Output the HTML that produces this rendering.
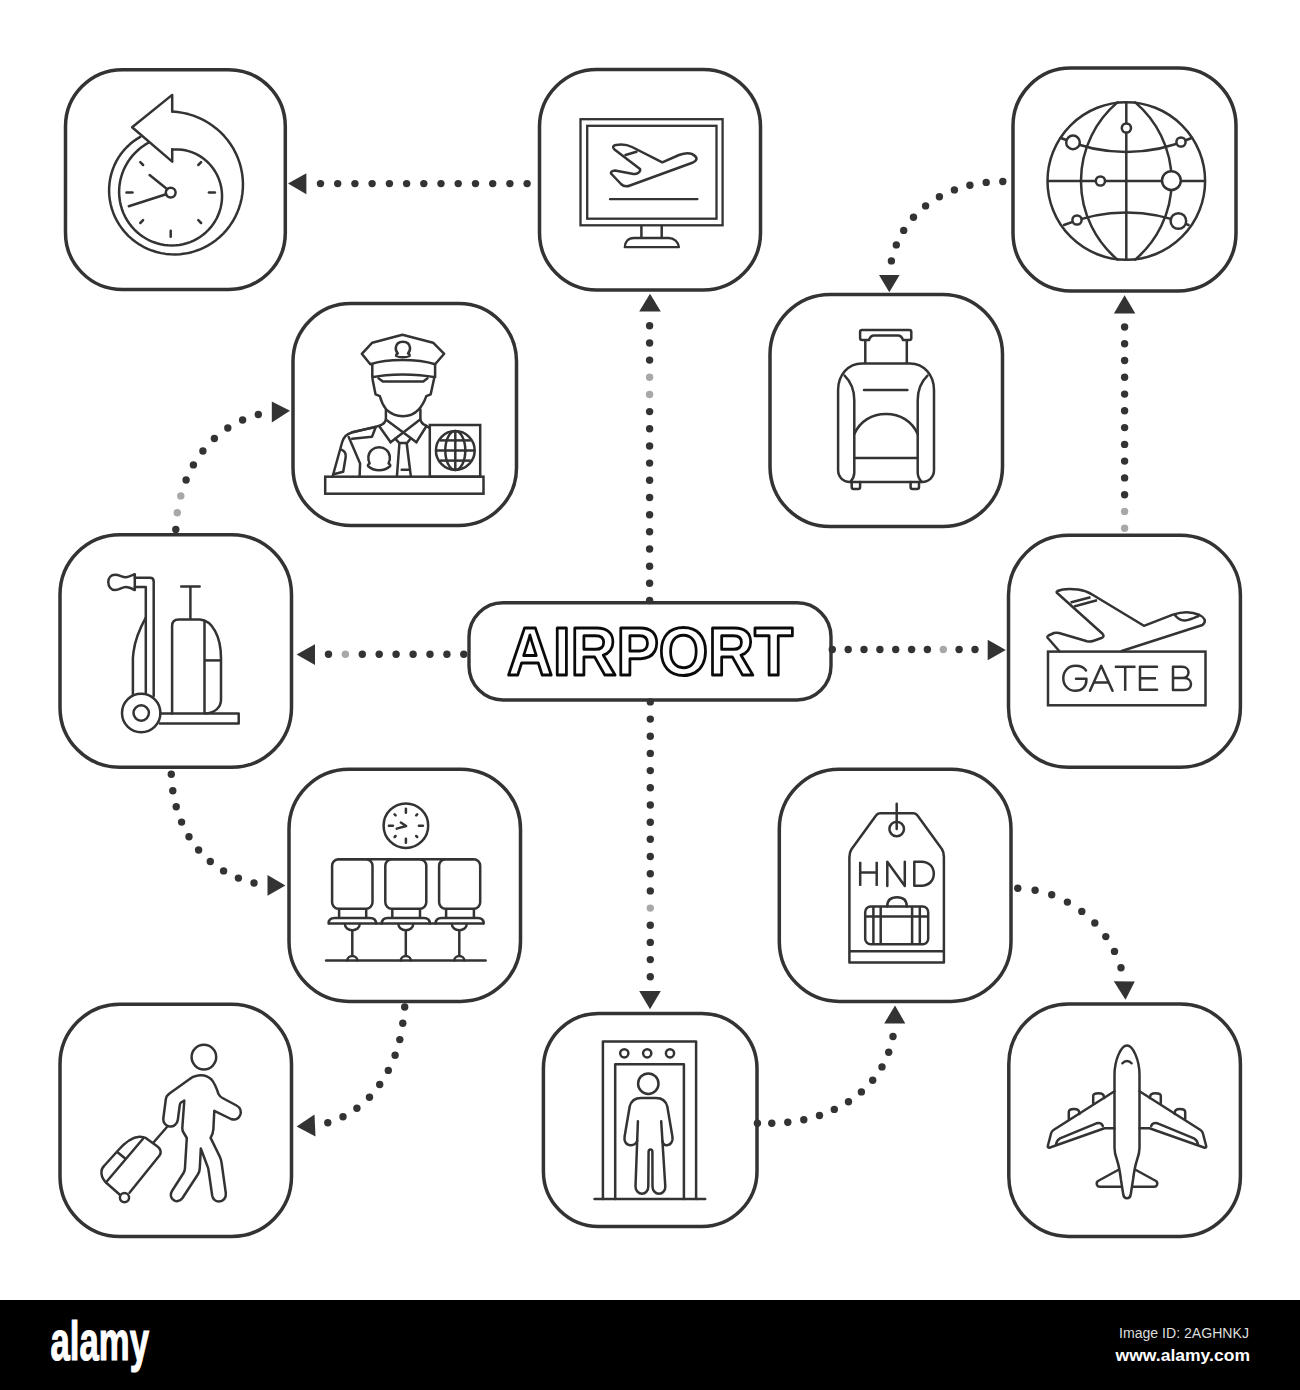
<!DOCTYPE html>
<html><head><meta charset="utf-8"><style>
html,body{margin:0;padding:0;background:#fff;}
body{width:1300px;height:1390px;position:relative;overflow:hidden;font-family:"Liberation Sans",sans-serif;}
svg{position:absolute;left:0;top:0;}
#bar{position:absolute;left:0;top:1300px;width:1300px;height:90px;background:#000;}
</style></head><body>
<svg width="1300" height="1300" viewBox="0 0 1300 1300">
<rect x="65.5" y="69.7" width="219.8" height="219.8" rx="56.8" fill="none" stroke="#333" stroke-width="3.5"/>
<rect x="539.5" y="69.5" width="221.0" height="220.5" rx="57.2" fill="none" stroke="#333" stroke-width="3.5"/>
<rect x="1013" y="68" width="223.0" height="223.0" rx="57.7" fill="none" stroke="#333" stroke-width="3.5"/>
<rect x="293" y="303.5" width="223.5" height="222.0" rx="57.8" fill="none" stroke="#333" stroke-width="3.5"/>
<rect x="770" y="294.5" width="232.5" height="232.0" rx="60.1" fill="none" stroke="#333" stroke-width="3.5"/>
<rect x="60" y="534.8" width="231.5" height="232.5" rx="59.9" fill="none" stroke="#333" stroke-width="3.5"/>
<rect x="1008.5" y="535.3" width="231.9" height="232.0" rx="60.0" fill="none" stroke="#333" stroke-width="3.5"/>
<rect x="289" y="769.3" width="231.5" height="232.1" rx="59.9" fill="none" stroke="#333" stroke-width="3.5"/>
<rect x="779.3" y="769.3" width="231.7" height="232.1" rx="59.9" fill="none" stroke="#333" stroke-width="3.5"/>
<rect x="60" y="1004.3" width="231.5" height="232.2" rx="59.9" fill="none" stroke="#333" stroke-width="3.5"/>
<rect x="543.4" y="1013.4" width="213.6" height="213.1" rx="55.2" fill="none" stroke="#333" stroke-width="3.5"/>
<rect x="1008.8" y="1004" width="231.6" height="232.4" rx="59.9" fill="none" stroke="#333" stroke-width="3.5"/>
<rect x="469" y="602.8" width="362" height="97.2" rx="34" fill="none" stroke="#333" stroke-width="3.4"/>
<circle cx="320.5" cy="183.6" r="3.7" fill="#333"/>
<circle cx="337.7" cy="183.6" r="3.7" fill="#333"/>
<circle cx="354.9" cy="183.6" r="3.7" fill="#333"/>
<circle cx="372.1" cy="183.6" r="3.7" fill="#333"/>
<circle cx="389.4" cy="183.6" r="3.7" fill="#333"/>
<circle cx="406.6" cy="183.6" r="3.7" fill="#333"/>
<circle cx="423.8" cy="183.6" r="3.7" fill="#333"/>
<circle cx="441.0" cy="183.6" r="3.7" fill="#333"/>
<circle cx="458.2" cy="183.6" r="3.7" fill="#333"/>
<circle cx="475.5" cy="183.6" r="3.7" fill="#333"/>
<circle cx="492.7" cy="183.6" r="3.7" fill="#333"/>
<circle cx="509.9" cy="183.6" r="3.7" fill="#333"/>
<circle cx="527.1" cy="183.6" r="3.7" fill="#333"/>
<circle cx="649.6" cy="325.8" r="3.7" fill="#333"/>
<circle cx="649.6" cy="343.0" r="3.7" fill="#333"/>
<circle cx="649.6" cy="360.1" r="3.7" fill="#333"/>
<circle cx="649.6" cy="377.3" r="3.7" fill="#a8a8a8"/>
<circle cx="649.6" cy="394.5" r="3.7" fill="#a8a8a8"/>
<circle cx="649.6" cy="411.6" r="3.7" fill="#333"/>
<circle cx="649.6" cy="428.8" r="3.7" fill="#333"/>
<circle cx="649.6" cy="446.0" r="3.7" fill="#333"/>
<circle cx="649.6" cy="463.1" r="3.7" fill="#333"/>
<circle cx="649.6" cy="480.3" r="3.7" fill="#333"/>
<circle cx="649.6" cy="497.5" r="3.7" fill="#333"/>
<circle cx="649.6" cy="514.7" r="3.7" fill="#333"/>
<circle cx="649.6" cy="531.8" r="3.7" fill="#333"/>
<circle cx="649.6" cy="549.0" r="3.7" fill="#333"/>
<circle cx="649.6" cy="566.2" r="3.7" fill="#333"/>
<circle cx="649.6" cy="583.3" r="3.7" fill="#333"/>
<circle cx="649.6" cy="600.5" r="3.7" fill="#333"/>
<circle cx="328.5" cy="654.2" r="3.7" fill="#333"/>
<circle cx="345.4" cy="654.2" r="3.7" fill="#a8a8a8"/>
<circle cx="362.3" cy="654.2" r="3.7" fill="#333"/>
<circle cx="379.2" cy="654.2" r="3.7" fill="#333"/>
<circle cx="396.1" cy="654.2" r="3.7" fill="#333"/>
<circle cx="413.1" cy="654.2" r="3.7" fill="#333"/>
<circle cx="430.0" cy="654.2" r="3.7" fill="#333"/>
<circle cx="446.9" cy="654.2" r="3.7" fill="#333"/>
<circle cx="463.8" cy="654.2" r="3.7" fill="#333"/>
<circle cx="832.3" cy="649.5" r="3.7" fill="#333"/>
<circle cx="848.2" cy="649.5" r="3.7" fill="#333"/>
<circle cx="864.0" cy="649.5" r="3.7" fill="#333"/>
<circle cx="879.9" cy="649.5" r="3.7" fill="#333"/>
<circle cx="895.7" cy="649.5" r="3.7" fill="#333"/>
<circle cx="911.6" cy="649.5" r="3.7" fill="#333"/>
<circle cx="927.4" cy="649.5" r="3.7" fill="#333"/>
<circle cx="943.3" cy="649.5" r="3.7" fill="#a8a8a8"/>
<circle cx="959.1" cy="649.5" r="3.7" fill="#333"/>
<circle cx="975.0" cy="649.5" r="3.7" fill="#333"/>
<circle cx="650.3" cy="701.9" r="3.7" fill="#333"/>
<circle cx="650.3" cy="719.1" r="3.7" fill="#333"/>
<circle cx="650.3" cy="736.3" r="3.7" fill="#333"/>
<circle cx="650.3" cy="753.4" r="3.7" fill="#333"/>
<circle cx="650.3" cy="770.6" r="3.7" fill="#333"/>
<circle cx="650.3" cy="787.8" r="3.7" fill="#333"/>
<circle cx="650.3" cy="805.0" r="3.7" fill="#333"/>
<circle cx="650.3" cy="822.2" r="3.7" fill="#333"/>
<circle cx="650.3" cy="839.3" r="3.7" fill="#333"/>
<circle cx="650.3" cy="856.5" r="3.7" fill="#333"/>
<circle cx="650.3" cy="873.7" r="3.7" fill="#333"/>
<circle cx="650.3" cy="890.9" r="3.7" fill="#333"/>
<circle cx="650.3" cy="908.1" r="3.7" fill="#a8a8a8"/>
<circle cx="650.3" cy="925.3" r="3.7" fill="#333"/>
<circle cx="650.3" cy="942.4" r="3.7" fill="#333"/>
<circle cx="650.3" cy="959.6" r="3.7" fill="#333"/>
<circle cx="650.3" cy="976.8" r="3.7" fill="#333"/>
<circle cx="1124.6" cy="327.0" r="3.7" fill="#333"/>
<circle cx="1124.6" cy="343.8" r="3.7" fill="#333"/>
<circle cx="1124.6" cy="360.5" r="3.7" fill="#333"/>
<circle cx="1124.6" cy="377.3" r="3.7" fill="#333"/>
<circle cx="1124.6" cy="394.1" r="3.7" fill="#333"/>
<circle cx="1124.6" cy="410.8" r="3.7" fill="#333"/>
<circle cx="1124.6" cy="427.6" r="3.7" fill="#333"/>
<circle cx="1124.6" cy="444.4" r="3.7" fill="#333"/>
<circle cx="1124.6" cy="461.1" r="3.7" fill="#333"/>
<circle cx="1124.6" cy="477.9" r="3.7" fill="#333"/>
<circle cx="1124.6" cy="494.7" r="3.7" fill="#333"/>
<circle cx="1124.6" cy="511.4" r="3.7" fill="#a8a8a8"/>
<circle cx="1124.6" cy="528.2" r="3.7" fill="#a8a8a8"/>
<circle cx="1002.8" cy="181.5" r="3.7" fill="#333"/>
<circle cx="986.2" cy="182.4" r="3.7" fill="#333"/>
<circle cx="969.9" cy="185.2" r="3.7" fill="#333"/>
<circle cx="954.4" cy="189.9" r="3.7" fill="#333"/>
<circle cx="939.4" cy="196.7" r="3.7" fill="#333"/>
<circle cx="925.6" cy="205.9" r="3.7" fill="#333"/>
<circle cx="913.5" cy="217.2" r="3.7" fill="#333"/>
<circle cx="903.7" cy="230.4" r="3.7" fill="#333"/>
<circle cx="896.3" cy="244.9" r="3.7" fill="#333"/>
<circle cx="891.4" cy="260.9" r="3.7" fill="#333"/>
<circle cx="175.8" cy="529.5" r="3.7" fill="#333"/>
<circle cx="177.3" cy="512.7" r="3.7" fill="#a8a8a8"/>
<circle cx="180.8" cy="495.9" r="3.7" fill="#a8a8a8"/>
<circle cx="186.1" cy="480.0" r="3.7" fill="#333"/>
<circle cx="193.4" cy="464.9" r="3.7" fill="#333"/>
<circle cx="202.9" cy="451.0" r="3.7" fill="#333"/>
<circle cx="214.4" cy="438.5" r="3.7" fill="#333"/>
<circle cx="227.8" cy="428.0" r="3.7" fill="#333"/>
<circle cx="242.6" cy="420.0" r="3.7" fill="#333"/>
<circle cx="258.3" cy="414.5" r="3.7" fill="#333"/>
<circle cx="171.3" cy="774.3" r="3.7" fill="#333"/>
<circle cx="172.8" cy="790.7" r="3.7" fill="#333"/>
<circle cx="176.2" cy="806.7" r="3.7" fill="#333"/>
<circle cx="181.6" cy="822.1" r="3.7" fill="#333"/>
<circle cx="189.0" cy="836.8" r="3.7" fill="#333"/>
<circle cx="198.6" cy="850.0" r="3.7" fill="#333"/>
<circle cx="210.3" cy="861.5" r="3.7" fill="#333"/>
<circle cx="223.6" cy="870.9" r="3.7" fill="#333"/>
<circle cx="238.4" cy="878.1" r="3.7" fill="#333"/>
<circle cx="254.0" cy="883.0" r="3.7" fill="#333"/>
<circle cx="404.7" cy="1007.0" r="3.7" fill="#333"/>
<circle cx="402.8" cy="1023.2" r="3.7" fill="#333"/>
<circle cx="399.8" cy="1039.6" r="3.7" fill="#333"/>
<circle cx="395.1" cy="1055.2" r="3.7" fill="#333"/>
<circle cx="388.3" cy="1070.4" r="3.7" fill="#333"/>
<circle cx="379.7" cy="1084.5" r="3.7" fill="#333"/>
<circle cx="369.5" cy="1097.3" r="3.7" fill="#333"/>
<circle cx="356.9" cy="1108.2" r="3.7" fill="#333"/>
<circle cx="343.0" cy="1116.8" r="3.7" fill="#333"/>
<circle cx="327.8" cy="1122.7" r="3.7" fill="#333"/>
<circle cx="757.4" cy="1123.3" r="3.7" fill="#333"/>
<circle cx="771.8" cy="1123.3" r="3.7" fill="#333"/>
<circle cx="787.8" cy="1122.3" r="3.7" fill="#333"/>
<circle cx="803.8" cy="1119.8" r="3.7" fill="#333"/>
<circle cx="819.5" cy="1115.5" r="3.7" fill="#333"/>
<circle cx="834.3" cy="1109.4" r="3.7" fill="#333"/>
<circle cx="848.5" cy="1101.8" r="3.7" fill="#333"/>
<circle cx="861.4" cy="1091.9" r="3.7" fill="#333"/>
<circle cx="872.7" cy="1080.2" r="3.7" fill="#333"/>
<circle cx="882.0" cy="1066.9" r="3.7" fill="#333"/>
<circle cx="888.7" cy="1052.2" r="3.7" fill="#333"/>
<circle cx="893.0" cy="1036.5" r="3.7" fill="#333"/>
<circle cx="1017.8" cy="888.3" r="3.7" fill="#333"/>
<circle cx="1035.1" cy="890.2" r="3.7" fill="#333"/>
<circle cx="1051.7" cy="894.8" r="3.7" fill="#333"/>
<circle cx="1067.4" cy="902.1" r="3.7" fill="#333"/>
<circle cx="1081.8" cy="911.4" r="3.7" fill="#333"/>
<circle cx="1094.8" cy="923.0" r="3.7" fill="#333"/>
<circle cx="1105.8" cy="936.6" r="3.7" fill="#333"/>
<circle cx="1114.5" cy="951.4" r="3.7" fill="#333"/>
<circle cx="1121.0" cy="967.7" r="3.7" fill="#333"/>
<polygon points="288.0,183.6 306.4,173.3 306.4,194.2" fill="#333"/>
<polygon points="650.0,293.8 639.2,311.6 660.8,311.6" fill="#333"/>
<polygon points="296.6,654.5 315.0,644.3 315.0,665.0" fill="#333"/>
<polygon points="1005.8,650.0 987.7,639.7 987.7,660.3" fill="#333"/>
<polygon points="650.0,1009.3 639.2,991.0 660.8,991.0" fill="#333"/>
<polygon points="889.3,292.3 879.0,275.0 899.6,275.0" fill="#333"/>
<polygon points="1124.6,295.2 1113.9,313.4 1135.3,313.4" fill="#333"/>
<polygon points="290.0,410.8 271.8,401.5 271.8,422.5" fill="#333"/>
<polygon points="285.4,885.5 267.5,875.0 267.5,895.8" fill="#333"/>
<polygon points="296.6,1126.6 314.5,1114.5 315.5,1136.5" fill="#333"/>
<polygon points="895.0,1005.4 884.2,1023.5 905.3,1023.5" fill="#333"/>
<polygon points="1125.5,999.7 1113.8,981.2 1134.8,981.6" fill="#333"/>
<text x="507" y="675.2" textLength="286" lengthAdjust="spacingAndGlyphs" font-family="Liberation Sans" font-weight="bold" font-size="68.5" fill="#fff" stroke="#0a0a0a" stroke-width="3" stroke-linejoin="round">AIRPORT</text>
<path d="M172.20,111.59 L177.60,112.04 L182.95,112.87 L188.21,114.08 L193.35,115.66 L198.35,117.60 L203.19,119.88 L207.84,122.50 L212.28,125.43 L216.49,128.67 L220.44,132.19 L224.12,135.97 L227.51,140.00 L230.59,144.24 L233.36,148.68 L235.79,153.30 L237.88,158.06 L239.62,162.95 L241.00,167.94 L242.02,173.00 L242.67,178.10 L242.95,183.22 L242.87,188.34 L242.42,193.42 L241.62,198.44 L240.45,203.37 L238.95,208.20 L237.10,212.89 L234.93,217.42 L232.45,221.78 L229.68,225.93 L226.62,229.87 L223.30,233.56 L219.73,236.99 L215.94,240.16 L211.94,243.03 L207.76,245.60 L203.42,247.86 L198.94,249.80 L194.35,251.41 L189.67,252.68 L184.92,253.61 L180.14,254.19 L175.34,254.43 L170.55,254.33 L165.80,253.89 L161.10,253.11 L156.48,251.99 L151.98,250.56 L147.59,248.81 L143.36,246.76 L139.30,244.42 L135.43,241.80 L131.77,238.92 L128.34,235.80 L125.14,232.44 L122.21,228.89 L119.54,225.14 L117.16,221.22 L115.08,217.15 L113.29,212.96 L111.81,208.67 L110.65,204.30 L109.81,199.87 L109.29,195.40 L109.09,190.92 L109.21,186.46 L109.65,182.03 L110.40,177.66 L111.46,173.36 L112.82,169.17 L114.47,165.10 L116.41,161.17 L118.61,157.40 L121.07,153.82 L123.76,150.43 L126.69,147.25 L129.82,144.30 L133.15,141.59 L136.65,139.13 L140.30,136.94" fill="none" stroke="#333" stroke-width="2.5" stroke-linecap="round" stroke-linejoin="round" />
<path d="M172.21,149.55 L175.48,149.38 L178.75,149.44 L182.03,149.75 L185.29,150.31 L188.50,151.10 L191.67,152.13 L194.76,153.39 L197.76,154.88 L200.65,156.60 L203.42,158.52 L206.04,160.66 L208.52,162.98 L210.82,165.49 L212.94,168.18 L214.86,171.02 L216.58,174.00 L218.08,177.12 L219.35,180.34 L220.38,183.66 L221.17,187.06 L221.71,190.52 L222.00,194.02 L222.03,197.54 L221.80,201.07 L221.31,204.59 L220.56,208.07 L219.56,211.49 L218.30,214.85 L216.79,218.11 L215.05,221.27 L213.07,224.30 L210.86,227.18 L208.45,229.90 L205.83,232.45 L203.02,234.81 L200.04,236.96 L196.90,238.89 L193.61,240.59 L190.20,242.06 L186.68,243.27 L183.07,244.22 L179.39,244.91 L175.65,245.33 L171.89,245.47 L168.11,245.33 L164.34,244.92 L160.60,244.23 L156.90,243.27 L153.28,242.03 L149.75,240.53 L146.32,238.76 L143.03,236.75 L139.88,234.49 L136.90,232.00 L134.10,229.29 L131.49,226.37 L129.10,223.26 L126.94,219.97 L125.03,216.52 L123.36,212.94 L121.96,209.22 L120.82,205.41 L119.97,201.51 L119.41,197.54 L119.14,193.54 L119.16,189.51 L119.48,185.49 L120.09,181.48 L121.00,177.52 L122.20,173.63 L123.68,169.83 L125.45,166.13 L127.49,162.56 L129.79,159.14 L132.34,155.89 L135.13,152.83 L138.15,149.97 L141.37,147.34 L144.79,144.94 L148.39,142.79" fill="none" stroke="#333" stroke-width="2.5" stroke-linecap="round" stroke-linejoin="round" />
<polyline points="172.2,111.4 172.2,94.9 132.1,127.3 172.2,161.6 172.2,149.3" fill="none" stroke="#333" stroke-width="2.5" stroke-linejoin="round" stroke-linecap="round"/>
<circle cx="170.7" cy="192.6" r="4.9" fill="none" stroke="#333" stroke-width="2.5"/>
<line x1="167.3" y1="189.2" x2="149.6" y2="175.0" stroke="#333" stroke-width="2.5" stroke-linecap="round"/>
<line x1="166.1" y1="194.2" x2="128.8" y2="206.2" stroke="#333" stroke-width="2.5" stroke-linecap="round"/>
<line x1="208.9" y1="192.6" x2="214.9" y2="192.6" stroke="#333" stroke-width="2.5" stroke-linecap="round"/>
<line x1="198.3" y1="220.2" x2="201.1" y2="223.0" stroke="#333" stroke-width="2.5" stroke-linecap="round"/>
<line x1="170.7" y1="230.8" x2="170.7" y2="236.8" stroke="#333" stroke-width="2.5" stroke-linecap="round"/>
<line x1="143.1" y1="220.2" x2="140.3" y2="223.0" stroke="#333" stroke-width="2.5" stroke-linecap="round"/>
<line x1="132.5" y1="192.6" x2="126.5" y2="192.6" stroke="#333" stroke-width="2.5" stroke-linecap="round"/>
<line x1="143.1" y1="165.0" x2="140.3" y2="162.2" stroke="#333" stroke-width="2.5" stroke-linecap="round"/>
<line x1="198.3" y1="165.0" x2="201.1" y2="162.2" stroke="#333" stroke-width="2.5" stroke-linecap="round"/>
<rect x="580.5" y="119.2" width="142.1" height="106.1" rx="0.0" fill="none" stroke="#333" stroke-width="2.3"/>
<rect x="587.2" y="125.8" width="129.3" height="92.9" rx="0.0" fill="none" stroke="#333" stroke-width="2.3"/>
<line x1="641.4" y1="225.3" x2="641.4" y2="238.0" stroke="#333" stroke-width="2.5" stroke-linecap="butt"/>
<line x1="661.7" y1="225.3" x2="661.7" y2="238.0" stroke="#333" stroke-width="2.5" stroke-linecap="butt"/>
<path d="M624.8,247.2 C625,242 628,238 634,238 L668.5,238 C674,238 678.5,242 678.9,247.2 Z" fill="none" stroke="#333" stroke-width="2.3" stroke-linecap="round" stroke-linejoin="round" />
<line x1="610.0" y1="199.2" x2="697.4" y2="199.2" stroke="#333" stroke-width="2.3" stroke-linecap="round"/>
<path d="M616,145 C622,144 628,145 632,147 L662.3,162.3 L679,155 C686,152.5 692,153 695,156 C698,159 696,161 693,162.5 L630,185.5 C626,187 623,186 621,184 L611.5,174 C610,172.5 612,170.5 615,170.5 L633.5,174 C637,174.5 641,172 640,169 L614.5,149.5 C612,147.5 613,145.5 616,145 Z" fill="none" stroke="#333" stroke-width="2.5" stroke-linecap="round" stroke-linejoin="round" />
<line x1="625.5" y1="155.0" x2="636.5" y2="151.8" stroke="#333" stroke-width="2.5" stroke-linecap="round"/>
<circle cx="1126.3" cy="181.0" r="78.8" fill="none" stroke="#333" stroke-width="2.5"/>
<line x1="1126.3" y1="102.2" x2="1126.3" y2="259.8" stroke="#333" stroke-width="2.5" stroke-linecap="butt"/>
<line x1="1047.5" y1="181.0" x2="1205.1" y2="181.0" stroke="#333" stroke-width="2.5" stroke-linecap="butt"/>
<path d="M1117.4,102.4 A103,103 0 0 0 1117.4,259.6" fill="none" stroke="#333" stroke-width="2.5" stroke-linecap="round" stroke-linejoin="round" />
<path d="M1135.2,102.4 A103,103 0 0 1 1135.2,259.6" fill="none" stroke="#333" stroke-width="2.5" stroke-linecap="round" stroke-linejoin="round" />
<path d="M1061,138 A159.75,159.75 0 0 0 1191.6,138" fill="none" stroke="#333" stroke-width="2.5" stroke-linecap="round" stroke-linejoin="round" />
<path d="M1064,225 A160.8,160.8 0 0 1 1188.6,225" fill="none" stroke="#333" stroke-width="2.5" stroke-linecap="round" stroke-linejoin="round" />
<circle cx="1126.4" cy="128.0" r="4.6" fill="#fff" stroke="#333" stroke-width="2.5"/>
<circle cx="1073.0" cy="142.4" r="6.8" fill="#fff" stroke="#333" stroke-width="2.5"/>
<circle cx="1181.0" cy="142.0" r="4.6" fill="#fff" stroke="#333" stroke-width="2.5"/>
<circle cx="1100.4" cy="181.0" r="4.6" fill="#fff" stroke="#333" stroke-width="2.5"/>
<circle cx="1171.4" cy="180.6" r="9.4" fill="#fff" stroke="#333" stroke-width="2.5"/>
<circle cx="1077.0" cy="220.0" r="4.6" fill="#fff" stroke="#333" stroke-width="2.5"/>
<circle cx="1178.4" cy="221.0" r="7.8" fill="#fff" stroke="#333" stroke-width="2.5"/>
<rect x="325.2" y="476.7" width="158.3" height="17.0" rx="0.0" fill="none" stroke="#333" stroke-width="2.5"/>
<rect x="429.8" y="425.0" width="50.4" height="51.7" rx="0.0" fill="none" stroke="#333" stroke-width="2.5"/>
<circle cx="455.3" cy="450.5" r="19.4" fill="none" stroke="#333" stroke-width="2.5"/>
<line x1="455.3" y1="431.1" x2="455.3" y2="469.9" stroke="#333" stroke-width="2.5" stroke-linecap="butt"/>
<line x1="435.9" y1="450.5" x2="474.7" y2="450.5" stroke="#333" stroke-width="2.5" stroke-linecap="butt"/>
<ellipse cx="455.3" cy="450.5" rx="10" ry="19.4" fill="none" stroke="#333" stroke-width="2.5"/>
<line x1="439.8" y1="440.4" x2="470.8" y2="440.4" stroke="#333" stroke-width="2.5" stroke-linecap="butt"/>
<line x1="439.8" y1="460.6" x2="470.8" y2="460.6" stroke="#333" stroke-width="2.5" stroke-linecap="butt"/>
<path d="M402.4,334.8 L372.3,342.7 L361.8,353.8 L370.3,364.2 C380,361 392,360 402.4,360 C414,360 425,361 435.1,364.2 L444.2,353.8 L433.1,342.7 Z" fill="none" stroke="#333" stroke-width="2.5" stroke-linecap="round" stroke-linejoin="round" />
<path d="M372.3,364.5 L372.3,377.3 C382,375 392,374.4 402.4,374.4 C413,374.4 424,375 435.1,377.3 L435.1,364.5" fill="none" stroke="#333" stroke-width="2.5" stroke-linecap="round" stroke-linejoin="round" />
<path d="M378.5,378.3 L382.8,381.4 L423.3,381.4 L427.5,378.3" fill="none" stroke="#333" stroke-width="2.5" stroke-linecap="round" stroke-linejoin="round" />
<path d="M397.8,353.3 C396,351.5 395.6,349.5 395.8,347.5 C396.3,343.8 399.3,341.7 402.9,341.7 C406.5,341.7 409.5,343.8 410,347.5 C410.2,349.5 409.8,351.5 408,353.3 C409.3,354 409.8,355 409.5,356 C407.5,357 405.3,357.3 402.9,357.3 C400.5,357.3 398.3,357 396.3,356 C396,355 396.5,354 397.8,353.3 Z" fill="none" stroke="#333" stroke-width="2.5" stroke-linecap="round" stroke-linejoin="round" />
<path d="M372.5,379 L375.5,394.3 L379.9,396.2 C381,400.5 383,405.5 386.4,409.7 C391,414 396.5,416.3 402.9,416.3 C409,416.3 414.5,414 418.6,409.7 C422.5,405.5 424.8,400.5 426.3,396.2 L430.7,394.3 L434,379" fill="none" stroke="#333" stroke-width="2.5" stroke-linecap="round" stroke-linejoin="round" />
<path d="M385.9,410 L385.9,418.5 C385.9,421.5 383,424.5 379.1,425.9" fill="none" stroke="#333" stroke-width="2.5" stroke-linecap="round" stroke-linejoin="round" />
<path d="M420.4,409.5 L420.4,418.5 C420.4,421.5 423,424.5 426.5,425.9" fill="none" stroke="#333" stroke-width="2.5" stroke-linecap="round" stroke-linejoin="round" />
<line x1="386.8" y1="420.2" x2="416.4" y2="442.2" stroke="#333" stroke-width="2.5" stroke-linecap="round"/>
<line x1="419.8" y1="419.8" x2="390.6" y2="442.2" stroke="#333" stroke-width="2.5" stroke-linecap="round"/>
<line x1="379.1" y1="426.0" x2="390.6" y2="442.2" stroke="#333" stroke-width="2.5" stroke-linecap="round"/>
<line x1="426.5" y1="426.0" x2="416.4" y2="442.2" stroke="#333" stroke-width="2.5" stroke-linecap="round"/>
<polyline points="395.2,438.6 399.4,443.1 407.1,443.1 410.4,438.8" fill="none" stroke="#333" stroke-width="2.5" stroke-linejoin="round" stroke-linecap="round"/>
<line x1="399.4" y1="443.5" x2="396.9" y2="476.5" stroke="#333" stroke-width="2.5" stroke-linecap="butt"/>
<line x1="406.7" y1="443.5" x2="410.9" y2="476.5" stroke="#333" stroke-width="2.5" stroke-linecap="butt"/>
<line x1="401.7" y1="469.7" x2="408.8" y2="469.7" stroke="#333" stroke-width="2.5" stroke-linecap="round"/>
<path d="M379.1,425.9 L352,432.5 C347,433.8 343.5,437.5 342.2,442 L332.6,476.5" fill="none" stroke="#333" stroke-width="2.5" stroke-linecap="round" stroke-linejoin="round" />
<polyline points="352.1,432.1 375.8,427.0 372.0,436.7 352.1,438.8" fill="none" stroke="#333" stroke-width="2.5" stroke-linejoin="round" stroke-linecap="round"/>
<path d="M348.7,437.1 L360.1,463.4 L359.6,476.5" fill="none" stroke="#333" stroke-width="2.5" stroke-linecap="round" stroke-linejoin="round" />
<path d="M341.9,449.8 C344.5,451 346,454 345.7,457 L343.2,471.8 L333.5,474.2" fill="none" stroke="#333" stroke-width="2.5" stroke-linecap="round" stroke-linejoin="round" />
<line x1="426.5" y1="426.0" x2="429.8" y2="428.3" stroke="#333" stroke-width="2.5" stroke-linecap="round"/>
<path d="M369.6,463.3 C368.4,461 368.2,458.5 368.4,456.5 C369,451 373.5,447.3 379.1,447.3 C384.7,447.3 389.2,451 389.8,456.5 C390,458.5 389.8,461 388.6,463.3 C389.8,464 390.5,465 390.2,466 C387,469 383,470.3 379.1,470.3 C375.2,470.3 371.2,469 368,466 C367.7,465 368.4,464 369.6,463.3 Z" fill="none" stroke="#333" stroke-width="2.5" stroke-linecap="round" stroke-linejoin="round" />
<path d="M862,330.1 L909.3,330.1 Q911.3,330.1 911.3,332.1 L911.3,338 Q911.3,340 909.3,340 L903,340 C902,337 900.5,335.5 898,335.5 L874,335.5 C871.5,335.5 870,337 869,340 L862,340 Q860.1,340 860.1,338 L860.1,332.1 Q860.1,330.1 862,330.1 Z" fill="none" stroke="#333" stroke-width="2.5" stroke-linecap="round" stroke-linejoin="round" />
<line x1="865.3" y1="340.0" x2="865.3" y2="363.4" stroke="#333" stroke-width="2.5" stroke-linecap="butt"/>
<line x1="906.8" y1="340.0" x2="906.8" y2="363.4" stroke="#333" stroke-width="2.5" stroke-linecap="butt"/>
<path d="M862,363.4 L910,363.4 C924,363.4 934,375 934,390 L934,470 C934,477 929,481.9 922,481.9 L850,481.9 C843,481.9 838.1,477 838.1,470 L838.1,390 C838.1,375 848,363.4 862,363.4 Z" fill="none" stroke="#333" stroke-width="2.5" stroke-linecap="round" stroke-linejoin="round" />
<path d="M844.6,375.7 C850,381 854.3,390 854.3,400.3 L854.3,472.8 C854.3,476 852.5,479.5 850.4,481.9" fill="none" stroke="#333" stroke-width="2.5" stroke-linecap="round" stroke-linejoin="round" />
<path d="M927.5,375.7 C922,381 917.7,390 917.7,400.3 L917.7,472.8 C917.7,476 919.5,479.5 921.7,481.9" fill="none" stroke="#333" stroke-width="2.5" stroke-linecap="round" stroke-linejoin="round" />
<line x1="864.0" y1="390.0" x2="907.4" y2="390.0" stroke="#333" stroke-width="2.5" stroke-linecap="round"/>
<path d="M854.3,434 C860,421 872,413.9 886,413.9 C900,413.9 912,421 917.7,434" fill="none" stroke="#333" stroke-width="2.5" stroke-linecap="round" stroke-linejoin="round" />
<line x1="854.3" y1="457.9" x2="917.7" y2="457.9" stroke="#333" stroke-width="2.5" stroke-linecap="butt"/>
<path d="M851.7,481.9 L851.7,487 Q851.7,489 853.7,489 L858.1,489 Q860.1,489 860.1,487 L860.1,481.9" fill="none" stroke="#333" stroke-width="2.5" stroke-linecap="round" stroke-linejoin="round" />
<path d="M910.6,481.9 L910.6,487 Q910.6,489 912.6,489 L917,489 Q919,489 919,487 L919,481.9" fill="none" stroke="#333" stroke-width="2.5" stroke-linecap="round" stroke-linejoin="round" />
<path d="M134.8,574.2 L134.8,590.1 C131,588 128,587 125.6,587 C122,587 119.5,590.1 115,590.1 C111,590.1 108.3,586.5 108.3,582.1 C108.3,577.7 111,574.8 115,574.8 C119.5,574.8 122,577.2 125.6,577.2 C128,577.2 131,576 134.8,574.2 Z" fill="none" stroke="#333" stroke-width="2.5" stroke-linecap="round" stroke-linejoin="round" />
<path d="M134.8,577.8 L150,577.8 Q153.7,577.8 153.7,581.5 L153.7,696" fill="none" stroke="#333" stroke-width="2.5" stroke-linecap="round" stroke-linejoin="round" />
<path d="M134.8,587 L145.8,587 L145.8,694" fill="none" stroke="#333" stroke-width="2.5" stroke-linecap="round" stroke-linejoin="round" />
<path d="M145.8,617.6 C140,628 135,640 133.5,652 L132.9,658 L132.9,694.5" fill="none" stroke="#333" stroke-width="2.5" stroke-linecap="round" stroke-linejoin="round" />
<circle cx="141.2" cy="713.0" r="19.2" fill="#fff" stroke="#333" stroke-width="2.5"/>
<circle cx="141.2" cy="713.0" r="7.7" fill="none" stroke="#333" stroke-width="2.5"/>
<path d="M160.3,713.6 L238.7,713.6 L238.7,723.4 L159.8,723.4" fill="none" stroke="#333" stroke-width="2.5" stroke-linecap="round" stroke-linejoin="round" />
<path d="M172.1,713.6 L172.1,626 Q172.1,619.4 178.7,619.4 L200,619.6 C212,620.5 221,636 221,658 L221,699.6 C221,708 214,713.4 205.1,713.4" fill="none" stroke="#333" stroke-width="2.5" stroke-linecap="round" stroke-linejoin="round" />
<line x1="204.5" y1="621.0" x2="204.5" y2="713.6" stroke="#333" stroke-width="2.5" stroke-linecap="butt"/>
<line x1="204.5" y1="660.4" x2="221.0" y2="660.4" stroke="#333" stroke-width="2.5" stroke-linecap="butt"/>
<line x1="190.4" y1="586.4" x2="190.4" y2="619.4" stroke="#333" stroke-width="2.5" stroke-linecap="butt"/>
<line x1="181.2" y1="586.4" x2="199.6" y2="586.4" stroke="#333" stroke-width="2.5" stroke-linecap="round"/>
<rect x="1048.0" y="651.6" width="157.5" height="53.7" rx="0.0" fill="none" stroke="#333" stroke-width="2.5"/>
<path d="M1059.4,651.3 L1047.4,637.5 Q1047,636.3 1048.5,635.5 L1054,633 Q1056.6,632.3 1059,633 L1087,641.2 Q1090,642 1093,641 L1101.5,638 Q1105,636.5 1102.5,633.8 L1058,593.8 Q1055.5,592 1057.5,591 C1062,589 1070,588.5 1078,589.5 C1084,590.3 1089,592.5 1093,595 L1143.9,625.8 L1172.9,614.6 C1182,611.5 1192,611.5 1199.5,615 C1204.5,617.5 1207,621 1202.5,625 L1121.7,651" fill="none" stroke="#333" stroke-width="2.5" stroke-linecap="round" stroke-linejoin="round" />
<path d="M1175,615.3 C1178,619 1181,620.8 1185,620.5 C1190,620 1194,618 1198.5,616" fill="none" stroke="#333" stroke-width="2.5" stroke-linecap="round" stroke-linejoin="round" />
<line x1="1070.5" y1="602.5" x2="1090.5" y2="597.3" stroke="#333" stroke-width="2.5" stroke-linecap="butt"/>
<line x1="1074.0" y1="606.5" x2="1097.0" y2="600.2" stroke="#333" stroke-width="2.5" stroke-linecap="butt"/>
<path d="M1086,670.5 C1084,667.5 1080.5,665.8 1075.5,665.8 C1068,665.8 1063.3,671.5 1063.3,678.3 C1063.3,685.5 1068.5,690.8 1075.5,690.8 C1082,690.8 1086.4,686.5 1086.4,680 L1086.4,678.8 L1076,678.8" fill="none" stroke="#333" stroke-width="2.5" stroke-linecap="round" stroke-linejoin="round" />
<polyline points="1090.0,690.8 1101.2,665.8 1112.5,690.8" fill="none" stroke="#333" stroke-width="2.5" stroke-linejoin="round" stroke-linecap="round"/>
<line x1="1094.0" y1="682.5" x2="1108.5" y2="682.5" stroke="#333" stroke-width="2.5" stroke-linecap="butt"/>
<line x1="1114.8" y1="666.8" x2="1135.5" y2="666.8" stroke="#333" stroke-width="2.5" stroke-linecap="butt"/>
<line x1="1125.2" y1="666.8" x2="1125.2" y2="690.8" stroke="#333" stroke-width="2.5" stroke-linecap="butt"/>
<polyline points="1157.0,666.8 1140.0,666.8 1140.0,689.8 1157.0,689.8" fill="none" stroke="#333" stroke-width="2.5" stroke-linejoin="round" stroke-linecap="round"/>
<line x1="1140.0" y1="678.3" x2="1156.0" y2="678.3" stroke="#333" stroke-width="2.5" stroke-linecap="butt"/>
<path d="M1173,690 L1173,666.8 L1182,666.8 C1186.5,666.8 1188.5,669.5 1188.5,672.5 C1188.5,675.8 1186,678 1182,678 L1173,678 M1182,678 L1184,678 C1188.5,678 1191,680.8 1191,684 C1191,687.5 1188.5,690 1184,690 L1173,690" fill="none" stroke="#333" stroke-width="2.5" stroke-linecap="round" stroke-linejoin="round" />
<circle cx="405.9" cy="825.7" r="22.3" fill="none" stroke="#333" stroke-width="2.5"/>
<line x1="418.9" y1="825.7" x2="422.9" y2="825.7" stroke="#333" stroke-width="2.5" stroke-linecap="round"/>
<line x1="416.2" y1="836.0" x2="417.2" y2="837.0" stroke="#333" stroke-width="2.5" stroke-linecap="round"/>
<line x1="405.9" y1="838.7" x2="405.9" y2="842.7" stroke="#333" stroke-width="2.5" stroke-linecap="round"/>
<line x1="395.6" y1="836.0" x2="394.6" y2="837.0" stroke="#333" stroke-width="2.5" stroke-linecap="round"/>
<line x1="392.9" y1="825.7" x2="388.9" y2="825.7" stroke="#333" stroke-width="2.5" stroke-linecap="round"/>
<line x1="395.6" y1="815.4" x2="394.6" y2="814.4" stroke="#333" stroke-width="2.5" stroke-linecap="round"/>
<line x1="405.9" y1="812.7" x2="405.9" y2="808.7" stroke="#333" stroke-width="2.5" stroke-linecap="round"/>
<line x1="416.2" y1="815.4" x2="417.2" y2="814.4" stroke="#333" stroke-width="2.5" stroke-linecap="round"/>
<polyline points="400.8,822.6 406.2,826.0 396.7,828.7" fill="none" stroke="#333" stroke-width="2.4" stroke-linejoin="round" stroke-linecap="round"/>
<line x1="339.0" y1="859.3" x2="473.0" y2="859.3" stroke="#333" stroke-width="2.5" stroke-linecap="round"/>
<rect x="332.1" y="859.3" width="40.4" height="49.5" rx="6.5" fill="none" stroke="#333" stroke-width="2.5"/>
<line x1="339.1" y1="908.8" x2="339.1" y2="918.0" stroke="#333" stroke-width="2.5" stroke-linecap="butt"/>
<line x1="366.2" y1="908.8" x2="366.2" y2="918.0" stroke="#333" stroke-width="2.5" stroke-linecap="butt"/>
<path d="M328.6,923.5 C328.6,920 330.6,918 334.6,918 L370.0,918 C374.0,918 376.0,920 376.0,923.5" fill="none" stroke="#333" stroke-width="2.5" stroke-linecap="round" stroke-linejoin="round" />
<path d="M344.90000000000003,924.2 A7.4,6 0 0 0 359.7,924.2" fill="none" stroke="#333" stroke-width="2.5" stroke-linecap="round" stroke-linejoin="round" />
<line x1="352.3" y1="930.0" x2="352.3" y2="956.0" stroke="#333" stroke-width="2.5" stroke-linecap="butt"/>
<path d="M347.3,960.6 A5,4.5 0 0 1 357.3,960.6" fill="none" stroke="#333" stroke-width="2.5" stroke-linecap="round" stroke-linejoin="round" />
<rect x="385.3" y="859.3" width="41.0" height="49.5" rx="6.5" fill="none" stroke="#333" stroke-width="2.5"/>
<line x1="392.3" y1="908.8" x2="392.3" y2="918.0" stroke="#333" stroke-width="2.5" stroke-linecap="butt"/>
<line x1="420.0" y1="908.8" x2="420.0" y2="918.0" stroke="#333" stroke-width="2.5" stroke-linecap="butt"/>
<path d="M381.8,923.5 C381.8,920 383.8,918 387.8,918 L423.8,918 C427.8,918 429.8,920 429.8,923.5" fill="none" stroke="#333" stroke-width="2.5" stroke-linecap="round" stroke-linejoin="round" />
<path d="M398.40000000000003,924.2 A7.4,6 0 0 0 413.2,924.2" fill="none" stroke="#333" stroke-width="2.5" stroke-linecap="round" stroke-linejoin="round" />
<line x1="405.8" y1="930.0" x2="405.8" y2="956.0" stroke="#333" stroke-width="2.5" stroke-linecap="butt"/>
<path d="M400.8,960.6 A5,4.5 0 0 1 410.8,960.6" fill="none" stroke="#333" stroke-width="2.5" stroke-linecap="round" stroke-linejoin="round" />
<rect x="439.1" y="859.3" width="41.1" height="49.5" rx="6.5" fill="none" stroke="#333" stroke-width="2.5"/>
<line x1="446.1" y1="908.8" x2="446.1" y2="918.0" stroke="#333" stroke-width="2.5" stroke-linecap="butt"/>
<line x1="473.9" y1="908.8" x2="473.9" y2="918.0" stroke="#333" stroke-width="2.5" stroke-linecap="butt"/>
<path d="M435.6,923.5 C435.6,920 437.6,918 441.6,918 L477.7,918 C481.7,918 483.7,920 483.7,923.5" fill="none" stroke="#333" stroke-width="2.5" stroke-linecap="round" stroke-linejoin="round" />
<path d="M451.90000000000003,924.2 A7.4,6 0 0 0 466.7,924.2" fill="none" stroke="#333" stroke-width="2.5" stroke-linecap="round" stroke-linejoin="round" />
<line x1="459.3" y1="930.0" x2="459.3" y2="956.0" stroke="#333" stroke-width="2.5" stroke-linecap="butt"/>
<path d="M454.3,960.6 A5,4.5 0 0 1 464.3,960.6" fill="none" stroke="#333" stroke-width="2.5" stroke-linecap="round" stroke-linejoin="round" />
<line x1="326.1" y1="960.6" x2="485.6" y2="960.6" stroke="#333" stroke-width="2.5" stroke-linecap="round"/>
<line x1="328.6" y1="923.5" x2="483.7" y2="923.5" stroke="#333" stroke-width="2.5" stroke-linecap="butt"/>
<path d="M849.4,962.5 L849.4,857 C849.4,854 850,851.5 851.5,849.2 L876,815.5 C877,814 878,813.3 880,813.3 L913.5,813.3 C915.5,813.3 916.5,814 917.5,815.5 L942,849.2 C943.5,851.5 943.9,854 943.9,857 L943.9,962.5 Z" fill="none" stroke="#333" stroke-width="2.5" stroke-linecap="round" stroke-linejoin="round" />
<line x1="849.4" y1="951.2" x2="943.9" y2="951.2" stroke="#333" stroke-width="2.5" stroke-linecap="butt"/>
<line x1="896.7" y1="803.8" x2="896.7" y2="829.0" stroke="#333" stroke-width="2.5" stroke-linecap="round"/>
<circle cx="896.7" cy="829.0" r="7.3" fill="none" stroke="#333" stroke-width="2.5"/>
<line x1="860.2" y1="861.8" x2="860.2" y2="885.9" stroke="#333" stroke-width="2.5" stroke-linecap="butt"/>
<line x1="876.7" y1="861.8" x2="876.7" y2="885.9" stroke="#333" stroke-width="2.5" stroke-linecap="butt"/>
<line x1="860.2" y1="872.5" x2="876.7" y2="872.5" stroke="#333" stroke-width="2.5" stroke-linecap="butt"/>
<polyline points="887.3,885.9 887.3,861.8 904.8,885.9 904.8,861.8" fill="none" stroke="#333" stroke-width="2.5" stroke-linejoin="round" stroke-linecap="round"/>
<path d="M914.3,861.8 L914.3,885.7 L921.5,885.7 C929,885.7 933.8,880.5 933.8,873.7 C933.8,867 929,861.8 921.5,861.8 Z" fill="none" stroke="#333" stroke-width="2.5" stroke-linecap="round" stroke-linejoin="round" />
<rect x="865.2" y="906.5" width="63.0" height="37.8" rx="5.5" fill="none" stroke="#333" stroke-width="2.5"/>
<path d="M887.2,906.5 C887.2,901 890,897.3 897,897.3 C904,897.3 906.8,901 906.8,906.5" fill="none" stroke="#333" stroke-width="2.5" stroke-linecap="round" stroke-linejoin="round" />
<line x1="873.4" y1="906.5" x2="873.4" y2="944.3" stroke="#333" stroke-width="2.5" stroke-linecap="butt"/>
<line x1="880.7" y1="906.5" x2="880.7" y2="944.3" stroke="#333" stroke-width="2.5" stroke-linecap="butt"/>
<line x1="912.1" y1="906.5" x2="912.1" y2="944.3" stroke="#333" stroke-width="2.5" stroke-linecap="butt"/>
<line x1="919.8" y1="906.5" x2="919.8" y2="944.3" stroke="#333" stroke-width="2.5" stroke-linecap="butt"/>
<line x1="865.2" y1="916.6" x2="928.2" y2="916.6" stroke="#333" stroke-width="2.5" stroke-linecap="butt"/>
<circle cx="203.9" cy="1057.1" r="12.3" fill="none" stroke="#333" stroke-width="2.5"/>
<path d="M197.8,1075.5 C203,1074.5 208,1076 211.5,1079.5 C214.5,1083 216.5,1088 218.5,1094 C219.5,1096 220.5,1097 222.5,1098 L236.5,1105.5 C240.5,1107.5 241.8,1112 240,1115.5 C238.5,1119 234.5,1120.5 231,1119 L214.3,1110.8 L213.4,1129 C213.3,1132 212.5,1134.5 210.6,1137.9 L219.5,1156 C220.5,1158 221.3,1160.5 221.6,1163 L225.8,1193 C226.5,1198 223,1201.5 219,1201.5 C215.5,1201.5 212.8,1199 212.2,1195.5 L208.5,1170 C208.2,1168 207.5,1166 206.6,1164 L200.8,1148.5 L199.8,1168 C199.8,1170.5 199,1172.5 197.8,1174.5 L182.5,1198 C180,1201.5 176,1202 173.5,1200 C170.5,1198 170,1194 172,1191 L183.5,1173 C184.5,1171.5 185,1169.5 185,1167.5 L186.8,1138 L183.5,1132.5 C182.5,1131 182.3,1129.5 182.3,1128 L184.3,1100.6 L181,1102.5 C180.3,1103 180,1104 179.8,1105 L177.8,1120 C177.3,1124 173.5,1127 169.5,1126.5 C165.5,1126 163,1122.5 163.3,1118.5 L165.8,1099.5 C166,1097 167.5,1094.8 169.5,1093.4 L189,1079.5 C191.5,1077.2 194.5,1076 197.8,1075.5 Z" fill="none" stroke="#333" stroke-width="2.5" stroke-linecap="round" stroke-linejoin="round" />
<line x1="167.6" y1="1126.2" x2="153.5" y2="1142.5" stroke="#333" stroke-width="2.5" stroke-linecap="round"/>
<path d="M119.6,1194.5 L106.5,1183 C100.5,1177.5 100,1170 104,1166 L118,1150.5 C125,1142.5 132,1137 139.3,1136.7 C142,1136.6 144,1137 146.1,1138.2 L157.5,1146.5 C161,1149 161.5,1153 159.5,1155.5 L129.5,1192.7" fill="none" stroke="#333" stroke-width="2.5" stroke-linecap="round" stroke-linejoin="round" />
<line x1="143.0" y1="1138.8" x2="106.1" y2="1182.2" stroke="#333" stroke-width="2.5" stroke-linecap="round"/>
<line x1="117.2" y1="1152.1" x2="125.2" y2="1158.5" stroke="#333" stroke-width="2.5" stroke-linecap="round"/>
<circle cx="124.5" cy="1197.6" r="4.6" fill="#fff" stroke="#333" stroke-width="2.5"/>
<path d="M602.9,1198.9 L602.9,1041.4 L696.1,1041.4 L696.1,1198.9" fill="none" stroke="#333" stroke-width="2.5" stroke-linecap="round" stroke-linejoin="round" />
<path d="M615.2,1198.9 L615.2,1064.3 L683.9,1064.3 L683.9,1198.9" fill="none" stroke="#333" stroke-width="2.5" stroke-linecap="round" stroke-linejoin="round" />
<circle cx="624.3" cy="1053.3" r="4.1" fill="none" stroke="#333" stroke-width="2.5"/>
<circle cx="647.2" cy="1053.3" r="4.1" fill="none" stroke="#333" stroke-width="2.5"/>
<circle cx="670.0" cy="1053.3" r="4.1" fill="none" stroke="#333" stroke-width="2.5"/>
<line x1="594.5" y1="1198.9" x2="705.2" y2="1198.9" stroke="#333" stroke-width="2.5" stroke-linecap="round"/>
<circle cx="648.3" cy="1083.7" r="10.2" fill="none" stroke="#333" stroke-width="2.5"/>
<path d="M637.9,1121.3 L635.5,1186.5 C635.5,1190.5 638.5,1193.8 642,1193.8 C645.5,1193.8 648.3,1190.5 648.3,1186.5 L648.6,1152 C648.6,1150.5 649.5,1149.5 650.5,1149.5 C651.5,1149.5 652.4,1150.5 652.4,1152 L652.5,1186.5 C652.5,1190.5 655.3,1193.8 659,1193.8 C662.5,1193.8 665.5,1190.5 665.3,1186.5 L661.2,1121.3" fill="none" stroke="#333" stroke-width="2.5" stroke-linecap="round" stroke-linejoin="round" />
<path d="M637.2,1141 C636,1144 632.5,1145.5 630,1145.3 C626,1145 623.8,1141 624.6,1136.5 L629.7,1106.5 C631,1101.5 635,1098 641,1098 L656,1098 C662,1098 666,1101.5 667.3,1106.5 L672.4,1136.5 C673.2,1141 671,1145 667,1145.3 C664.5,1145.5 663,1144 662.4,1141" fill="none" stroke="#333" stroke-width="2.5" stroke-linecap="round" stroke-linejoin="round" />
<path d="M1127,1045.5 C1121,1045.5 1114.5,1060 1114.5,1075 L1114.5,1148 C1114.5,1152 1115.5,1156 1117,1160 C1119,1166 1120,1172 1121,1180 L1123.2,1194 C1123.6,1197 1125,1198.2 1127,1198.2 C1129,1198.2 1130.4,1197 1130.8,1194 L1133,1180 C1134,1172 1135,1166 1137,1160 C1138.5,1156 1139.5,1152 1139.5,1148 L1139.5,1075 C1139.5,1060 1133,1045.5 1127,1045.5 Z" fill="none" stroke="#333" stroke-width="2.5" stroke-linecap="round" stroke-linejoin="round" />
<path d="M1122.4,1063.3 C1125,1060.3 1129,1060.3 1131.6,1063.3" fill="none" stroke="#333" stroke-width="2.5" stroke-linecap="round" stroke-linejoin="round" />
<path d="M1114.5,1091.2 L1053.5,1130 C1052,1131 1051.5,1132 1051.2,1133 L1047.8,1146 C1047.5,1147.5 1048.5,1148 1050,1147.5 L1104.5,1128.3 L1114.5,1128.3" fill="none" stroke="#333" stroke-width="2.5" stroke-linecap="round" stroke-linejoin="round" />
<path d="M1056,1144.5 C1056.5,1141.5 1057.5,1139.5 1060,1138.3 L1097,1123.2 C1099.5,1122.3 1102,1123.5 1102.8,1126" fill="none" stroke="#333" stroke-width="2.5" stroke-linecap="round" stroke-linejoin="round" />
<path d="M1093.2,1103 L1093.2,1096 C1093.2,1094 1095,1093.2 1098.5,1093.2 C1102,1093.2 1103.8,1094.5 1103.8,1096.5 L1104.2,1098" fill="none" stroke="#333" stroke-width="2.5" stroke-linecap="round" stroke-linejoin="round" />
<path d="M1068.8,1119 L1068.8,1112 C1068.8,1110 1070.5,1109 1074,1109 C1077.5,1109 1079.2,1110.5 1079.2,1112.5 L1079.4,1114" fill="none" stroke="#333" stroke-width="2.5" stroke-linecap="round" stroke-linejoin="round" />
<path d="M1119,1169.5 L1098,1181 C1096.5,1182 1096.5,1183.5 1097,1185 C1097.5,1186.3 1098.5,1186.7 1100,1186.7 L1121.5,1186.7" fill="none" stroke="#333" stroke-width="2.5" stroke-linecap="round" stroke-linejoin="round" />
<path d="M1139.5,1091.2 L1200.5,1130 C1202,1131 1202.5,1132 1202.8,1133 L1206.2,1146 C1206.5,1147.5 1205.5,1148 1204,1147.5 L1149.5,1128.3 L1139.5,1128.3" fill="none" stroke="#333" stroke-width="2.5" stroke-linecap="round" stroke-linejoin="round" />
<path d="M1198,1144.5 C1197.5,1141.5 1196.5,1139.5 1194,1138.3 L1157,1123.2 C1154.5,1122.3 1152,1123.5 1151.2,1126" fill="none" stroke="#333" stroke-width="2.5" stroke-linecap="round" stroke-linejoin="round" />
<path d="M1160.8,1103 L1160.8,1096 C1160.8,1094 1159,1093.2 1155.5,1093.2 C1152,1093.2 1150.2,1094.5 1150.2,1096.5 L1149.8,1098" fill="none" stroke="#333" stroke-width="2.5" stroke-linecap="round" stroke-linejoin="round" />
<path d="M1185.2,1119 L1185.2,1112 C1185.2,1110 1183.5,1109 1180,1109 C1176.5,1109 1174.8,1110.5 1174.8,1112.5 L1174.6,1114" fill="none" stroke="#333" stroke-width="2.5" stroke-linecap="round" stroke-linejoin="round" />
<path d="M1135,1169.5 L1156,1181 C1157.5,1182 1157.5,1183.5 1157,1185 C1156.5,1186.3 1155.5,1186.7 1154,1186.7 L1132.5,1186.7" fill="none" stroke="#333" stroke-width="2.5" stroke-linecap="round" stroke-linejoin="round" />
</svg>
<div id="bar">
<svg width="1300" height="90" viewBox="0 1300 1300 90">

<text x="50.5" y="1359.5" font-family="Liberation Sans" font-weight="bold" font-size="55" fill="#fff" stroke="#fff" stroke-width="1.2" textLength="98.5" lengthAdjust="spacingAndGlyphs">alamy</text>
<text x="1119" y="1337.5" font-family="Liberation Sans" font-size="14" fill="#ddd" textLength="130" lengthAdjust="spacingAndGlyphs">Image ID: 2AGHNKJ</text>
<text x="1115.5" y="1361" font-family="Liberation Sans" font-weight="bold" font-size="16.5" fill="#fff" textLength="134.5" lengthAdjust="spacingAndGlyphs">www.alamy.com</text>

</svg>
</div>
</body></html>
